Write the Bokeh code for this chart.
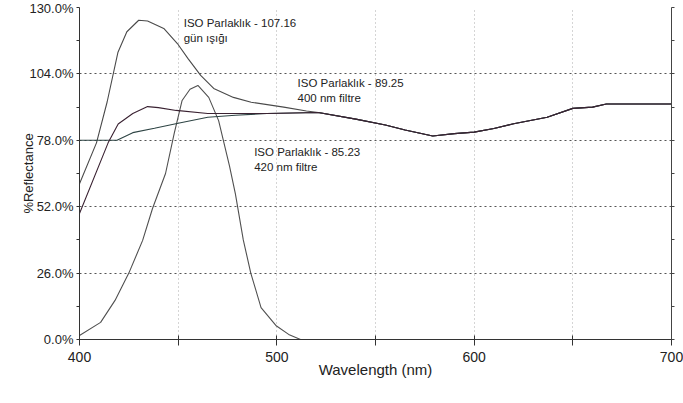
from bokeh.plotting import figure
from bokeh.models import (Range1d, FixedTicker, PrintfTickFormatter, LinearAxis,
                          CustomJSTickFormatter, Label)
from bokeh.embed import file_html
from bokeh.resources import INLINE

# ---- data ----
# common tail shared by the three reflectance curves (nm, %)
wl_common = [521, 540, 555, 565, 579, 590, 600, 610, 620, 637, 650, 660, 667, 700]
refl_common = [88.9, 86.3, 84.0, 82.0, 79.7, 80.6, 81.2, 82.6, 84.5, 87.0, 90.5, 91.0, 92.2, 92.2]

# daylight (gün ışığı)
wl_day = [400, 408.6, 414, 419.5, 424, 430, 434.5, 442.7, 449.6, 455, 461.4, 468, 478, 487, 503.5, 515]
refl_day = [61.0, 77.0, 93.0, 112.5, 120.5, 125.0, 124.7, 121.8, 115.9, 110.0, 103.4, 98.3, 94.8, 92.9, 91.0, 89.5]

# 400 nm filter
wl_f400 = [400, 414.5, 419.6, 427, 434.5, 440, 449, 465, 495]
refl_f400 = [49.3, 77.0, 84.4, 88.5, 91.2, 90.8, 89.7, 88.5, 88.5]

# 420 nm filter
wl_f420 = [400, 419, 427, 438, 450, 465, 479, 495]
refl_f420 = [78.0, 78.0, 81.0, 82.7, 84.7, 87.0, 87.8, 88.5]

# narrow peak curve
wl_peak = [400, 410.7, 418, 425, 432, 437, 443.6, 448, 452, 456, 460, 465.5, 470.5, 476, 479, 483, 486.8, 492, 499.5, 506, 512]
refl_peak = [1.6, 6.7, 15.3, 26.0, 38.8, 51.3, 65.0, 80.7, 93.6, 98.0, 99.5, 94.8, 85.7, 68.0, 57.0, 39.0, 26.0, 12.5, 5.5, 2.0, 0.0]

y_ticks = [0, 26, 52, 78, 104, 130]
y_minor = [13, 39, 65, 91, 117]
x_ticks = [400, 500, 600, 700]
x_minor = [450, 550, 650]
x_grid = [450, 500, 550, 600, 650]

labels = [
    ("ISO Parlaklık - 107.16", 452.8, 124.1),
    ("gün ışığı", 452.8, 118.2),
    ("ISO Parlaklık - 89.25", 510.5, 100.6),
    ("400 nm filtre", 510.5, 94.6),
    ("ISO Parlaklık - 85.23", 488.5, 73.4),
    ("420 nm filtre", 488.5, 67.7),
]

p = figure(width=683, height=403, output_backend="svg", toolbar_location=None,
           x_range=Range1d(400, 700), y_range=Range1d(0, 130),
           min_border_left=79, min_border_right=12, min_border_top=7, min_border_bottom=64)
p.outline_line_color = None
p.background_fill_color = "white"
p.border_fill_color = "white"

# curves
p.line(wl_peak, refl_peak, line_color="#505050", line_width=1.1)
p.line(wl_day + wl_common, refl_day + refl_common, line_color="#4a4a4a", line_width=1.1)
p.line(wl_f420 + wl_common, refl_f420 + refl_common, line_color="#2e4444", line_width=1.1)
p.line(wl_f400 + wl_common, refl_f400 + refl_common, line_color="#3a2232", line_width=1.1)

# axes
xa = p.xaxis[0]
xa.ticker = FixedTicker(ticks=x_ticks, minor_ticks=x_minor)
xa.axis_label = "Wavelength (nm)"
xa.axis_label_text_font = "Liberation Sans"
xa.axis_label_text_font_size = "15px"
xa.axis_label_text_font_style = "normal"
xa.axis_label_text_color = "#222"
xa.axis_label_standoff = -4
xa.major_label_text_font = "Liberation Sans"
xa.major_label_text_font_size = "14px"
xa.major_label_text_color = "#222"
xa.major_label_standoff = 6
xa.major_tick_in = 4
xa.major_tick_out = 6
xa.minor_tick_in = 4
xa.minor_tick_out = 6
xa.axis_line_color = "#333"
xa.major_tick_line_color = "#333"
xa.minor_tick_line_color = "#333"

ya = p.yaxis[0]
ya.ticker = FixedTicker(ticks=y_ticks, minor_ticks=y_minor)
ya.formatter = PrintfTickFormatter(format="%.1f%%")
ya.axis_label = "%Reflectance"
ya.axis_label_text_font = "Liberation Sans"
ya.axis_label_text_font_size = "13px"
ya.axis_label_text_font_style = "normal"
ya.axis_label_text_color = "#222"
ya.axis_label_standoff = -10
ya.major_label_text_font = "Liberation Sans"
ya.major_label_text_font_size = "13px"
ya.major_label_text_color = "#222"
ya.major_label_standoff = 3
ya.major_tick_in = 0
ya.major_tick_out = 3
ya.minor_tick_in = 0
ya.minor_tick_out = 3
ya.axis_line_color = "#333"
ya.major_tick_line_color = "#333"
ya.minor_tick_line_color = "#333"

ra = LinearAxis(ticker=FixedTicker(ticks=y_ticks + y_minor),
                formatter=CustomJSTickFormatter(code="return ''"))
ra.major_tick_in = 0
ra.major_tick_out = 3
ra.axis_line_color = "#444"
ra.major_tick_line_color = "#444"
ra.major_label_standoff = 0
p.add_layout(ra, "right")

# grids
p.ygrid.ticker = FixedTicker(ticks=y_ticks)
p.ygrid.grid_line_color = "#555"
p.ygrid.grid_line_dash = "2 3"
p.ygrid.grid_line_width = 1
p.xgrid.ticker = FixedTicker(ticks=x_grid)
p.xgrid.grid_line_color = "#aaa"
p.xgrid.grid_line_dash = "1 3"
p.xgrid.grid_line_width = 1

for txt, x, y in labels:
    p.add_layout(Label(x=x, y=y, text=txt, text_font="Liberation Sans",
                       text_font_size="11.5px", text_color="#222",
                       text_align="left", text_baseline="middle"))

open("out.html", "w").write(file_html(p, INLINE))
